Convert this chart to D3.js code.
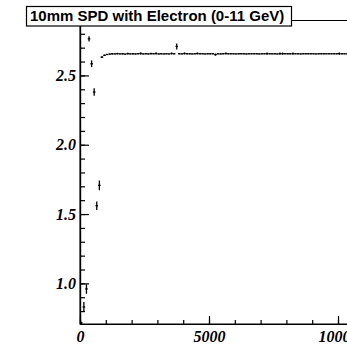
<!DOCTYPE html>
<html>
<head>
<meta charset="utf-8">
<script src="https://cdn.jsdelivr.net/npm/d3@7"></script>
<style>
  html, body { margin: 0; padding: 0; background: #fff; overflow: hidden; }
  svg { display: block; }
</style>
</head>
<body>
<svg id="chart" width="347" height="346"></svg>
<script>
const title = "10mm SPD with Electron (0-11 GeV)";

// bins of 100 starting at 0, one value + error per bin
const binWidth = 100;
const binCenters = d3.range(50, 10500, binWidth);

const values = [
  0.715, 0.830, 0.960, 2.764, 2.584, 2.380, 1.560, 1.707, 2.632, 2.645,
  2.651, 2.654, 2.656, 2.655, 2.657, 2.655, 2.656, 2.654, 2.657, 2.655,
  2.656, 2.655, 2.656, 2.658, 2.655, 2.656, 2.655, 2.657, 2.656, 2.658,
  2.655, 2.656, 2.655, 2.656, 2.655, 2.658, 2.656, 2.709, 2.656, 2.655,
  2.658, 2.656, 2.656, 2.655, 2.656, 2.658, 2.656, 2.656, 2.655, 2.656,
  2.656, 2.656, 2.650, 2.656, 2.655, 2.656, 2.658, 2.656, 2.656, 2.656,
  2.655, 2.656, 2.656, 2.656, 2.655, 2.656, 2.656, 2.656, 2.656, 2.655,
  2.656, 2.656, 2.657, 2.656, 2.656, 2.656, 2.655, 2.657, 2.657, 2.656,
  2.656, 2.656, 2.657, 2.656, 2.656, 2.655, 2.656, 2.656, 2.656, 2.656,
  2.656, 2.655, 2.656, 2.656, 2.656, 2.656, 2.656, 2.656, 2.656, 2.656,
  2.657, 2.656, 2.656, 2.656, 2.656
];

const errors = [
  0.008, 0.036, 0.035, 0.019, 0.024, 0.027, 0.030, 0.035, 0.006, 0.005,
  0.004, 0.003, 0.006, 0.003, 0.006, 0.003, 0.006, 0.003, 0.006, 0.003,
  0.006, 0.003, 0.003, 0.008, 0.003, 0.003, 0.003, 0.007, 0.003, 0.007,
  0.003, 0.003, 0.003, 0.003, 0.003, 0.007, 0.003, 0.022, 0.003, 0.003,
  0.007, 0.003, 0.003, 0.003, 0.003, 0.007, 0.003, 0.003, 0.003, 0.003,
  0.003, 0.003, 0.008, 0.003, 0.003, 0.003, 0.007, 0.003, 0.003, 0.003,
  0.003, 0.003, 0.003, 0.003, 0.003, 0.003, 0.003, 0.003, 0.003, 0.003,
  0.003, 0.003, 0.008, 0.003, 0.003, 0.003, 0.003, 0.008, 0.008, 0.003,
  0.003, 0.003, 0.008, 0.003, 0.003, 0.003, 0.003, 0.003, 0.003, 0.003,
  0.003, 0.003, 0.003, 0.003, 0.003, 0.003, 0.003, 0.003, 0.003, 0.003,
  0.008, 0.003, 0.003, 0.003, 0.003
];

const xMajor = [0, 5000, 10000];
const xMinor = d3.range(0, 12001, 1000);
const yMajor = [1.0, 1.5, 2.0, 2.5];
const yMinor = d3.range(0.8, 2.95, 0.1);

const svg = d3.select("#chart");
const frame = {left: 80, right: 389.6, top: 20.5, bottom: 324};

let x = d3.scaleLinear().domain([0, 12000]).range([frame.left, frame.right]);
let y = d3.scaleLinear().domain([0.707, 2.896]).range([frame.bottom, frame.top]);

let points = binCenters.map((c, i) => ({c: c, v: values[i], e: errors[i]}));

// frame
svg.append("rect")
    .attr("x", frame.left).attr("y", frame.top)
    .attr("width", frame.right - frame.left).attr("height", frame.bottom - frame.top)
    .attr("fill", "none").attr("stroke", "#000").attr("stroke-width", 1);

// minor ticks
let xMinorAxis = svg.append("g")
    .attr("transform", `translate(0,${frame.bottom})`)
    .call(d3.axisBottom(x).tickValues(xMinor).tickSize(-4).tickSizeOuter(0).tickFormat(""));
let yMinorAxis = svg.append("g")
    .attr("transform", `translate(${frame.left},0)`)
    .call(d3.axisLeft(y).tickValues(yMinor).tickSize(-5).tickSizeOuter(0).tickFormat(""));

// major ticks with labels
let xAxis = svg.append("g")
    .attr("transform", `translate(0,${frame.bottom})`)
    .call(d3.axisBottom(x).tickValues(xMajor).tickSize(-8).tickSizeOuter(0).tickPadding(7).tickFormat(d3.format("d")));
let yAxis = svg.append("g")
    .attr("transform", `translate(${frame.left},0)`)
    .call(d3.axisLeft(y).tickValues(yMajor).tickSize(-9).tickSizeOuter(0).tickPadding(4).tickFormat(d3.format(".1f")));

[xMinorAxis, yMinorAxis, xAxis, yAxis].forEach(g => {
    g.selectAll("line").attr("stroke", "#000").attr("stroke-width", 1.2);
    g.select(".domain").attr("stroke", "#000").attr("stroke-width", 1.2);
    g.selectAll("text")
        .attr("fill", "#000")
        .attr("font-family", "'Liberation Serif', 'DejaVu Serif', serif")
        .attr("font-weight", "bold")
        .attr("font-style", "italic")
        .attr("font-size", 16);
});

// data: error bars (vertical) + bin width (horizontal)
let layer = svg.append("g").attr("stroke", "#000").attr("stroke-width", 1.3);
layer.selectAll(".ey")
    .data(points)
    .join("line")
    .attr("class", "ey")
    .attr("x1", d => x(d.c)).attr("x2", d => x(d.c))
    .attr("y1", d => y(d.v - d.e)).attr("y2", d => y(d.v + d.e));
layer.selectAll(".ex")
    .data(points)
    .join("line")
    .attr("class", "ex")
    .attr("x1", d => x(d.c - binWidth / 2)).attr("x2", d => x(d.c + binWidth / 2))
    .attr("y1", d => y(d.v)).attr("y2", d => y(d.v));

// title box
let tbox = svg.append("g");
tbox.append("rect")
    .attr("x", 26.5).attr("y", 6.5).attr("width", 265).attr("height", 19.5)
    .attr("fill", "#fff").attr("stroke", "#000").attr("stroke-width", 1.2);
tbox.append("text")
    .attr("x", 30).attr("y", 20.5)
    .attr("font-family", "'Liberation Sans', Arial, sans-serif")
    .attr("font-weight", "bold")
    .attr("font-size", 15)
    .text(title);
</script>
</body>
</html>
